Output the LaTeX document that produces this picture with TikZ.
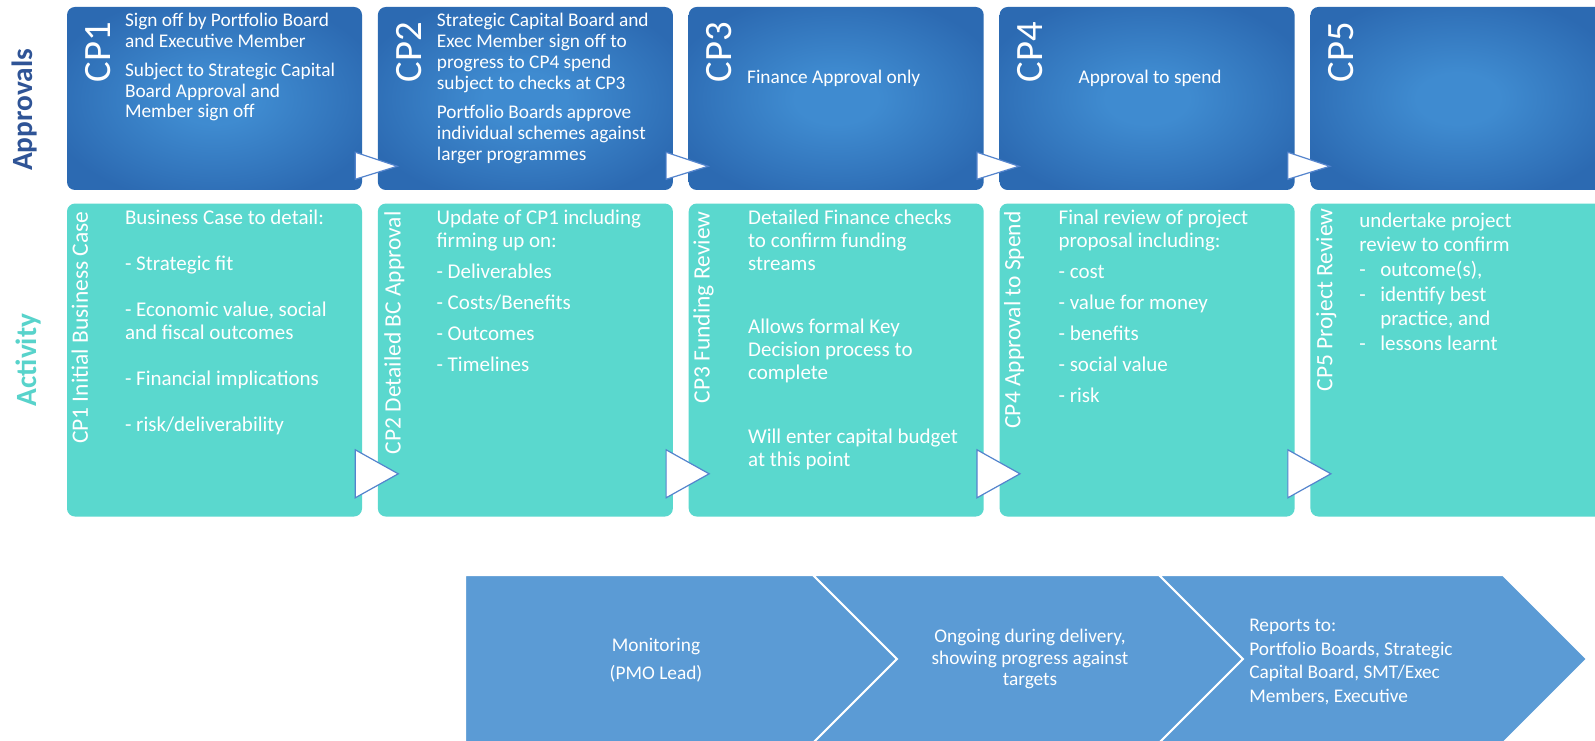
\documentclass[tikz,border=0pt]{standalone}
\usepackage{fontspec}
\setmainfont{Carlito}
\usetikzlibrary{positioning}

\definecolor{apin}{RGB}{63,139,208}
\definecolor{apout}{RGB}{44,106,178}
\definecolor{actfill}{RGB}{90,216,206}
\definecolor{chevfill}{RGB}{91,155,213}
\definecolor{apword}{RGB}{47,84,150}
\definecolor{acword}{RGB}{88,211,203}
\definecolor{gateline}{RGB}{84,132,205}

\pgfdeclareradialshading{apglow}{\pgfpointorigin}{color(0bp)=(apin); color(7bp)=(apin); color(29bp)=(apout); color(50bp)=(apout)}

\begin{document}
\begin{tikzpicture}[x=0.75pt,y=-0.75pt,
    approval/.style={shade, shading=apglow, rounded corners=6pt,
      minimum width=221.25pt, minimum height=137.25pt, inner sep=0pt},
    activity/.style={fill=actfill, rounded corners=6pt,
      minimum width=221.25pt, minimum height=234.75pt, inner sep=0pt},
    cpbig/.style={rotate=90, anchor=east, inner sep=0pt, text=white,
      font=\fontsize{29}{29}\selectfont},
    cplabel/.style={rotate=90, anchor=east, inner sep=0pt, text=white,
      text height=0.68em, text depth=0.22em, font=\fontsize{17.6}{17.6}\selectfont},
    apbody/.style={anchor=north west, align=left, inner sep=0pt, text=white,
      font=\fontsize{14.5}{15.6}\selectfont},
    acbody/.style={anchor=north west, align=left, inner sep=0pt, text=white,
      font=\fontsize{15.75}{17.25}\selectfont},
    sidelab/.style={rotate=90, inner sep=0pt, font=\bfseries\fontsize{22}{22}\selectfont},
    gate/.style={fill=white, draw=gateline, line width=0.9pt, line join=miter},
    chev/.style={fill=chevfill, draw=white, line width=1.5pt},
    chevtxt/.style={inner sep=0pt, text=white, font=\fontsize{14.5}{16.5}\selectfont},
    ]
    \useasboundingbox (0,0) rectangle (1595,741);
    \clip (0,0) rectangle (1595,741);
    \fill[white] (0,0) rectangle (1595,741);

    % Place boxes
    \node [approval] (ap1) at (214.5,98.5) {};
    \node [approval, right=11.5pt of ap1] (ap2) {};
    \node [approval, right=11.5pt of ap2] (ap3) {};
    \node [approval, right=11.5pt of ap3] (ap4) {};
    \node [approval, right=11.5pt of ap4] (ap5) {};

    \node [activity, below=9.75pt of ap1] (ac1) {};
    \node [activity, below=9.75pt of ap2] (ac2) {};
    \node [activity, below=9.75pt of ap3] (ac3) {};
    \node [activity, below=9.75pt of ap4] (ac4) {};
    \node [activity, below=9.75pt of ap5] (ac5) {};

    % Row labels
    \node [sidelab, text=apword] (apname) at (25,110) {Approvals};
    \node [sidelab, text=acword] (acname) at (28,360) {Activity};

    % Approvals text
    \node [cpbig] (cp1) at ([shift={(31,15)}]ap1.north west) {CP1};
    \node [cpbig] (cp2) at ([shift={(31,15)}]ap2.north west) {CP2};
    \node [cpbig] (cp3) at ([shift={(31,15)}]ap3.north west) {CP3};
    \node [cpbig] (cp4) at ([shift={(31,15)}]ap4.north west) {CP4};
    \node [cpbig] (cp5) at ([shift={(31,15)}]ap5.north west) {CP5};

    \node [apbody] (ap1txt) at ([shift={(58,6.2)}]ap1.north west)
      {Sign off by Portfolio Board\\ and Executive Member\\[6pt]
       Subject to Strategic Capital\\ Board Approval and\\ Member sign off};
    \node [apbody] (ap2txt) at ([shift={(59,6.2)}]ap2.north west)
      {Strategic Capital Board and\\ Exec Member sign off to\\ progress to CP4 spend\\
       subject to checks at CP3\\[6.5pt]
       Portfolio Boards approve\\ individual schemes against\\ larger programmes};
    \node [apbody] (ap3txt) at ([shift={(58.4,62.7)}]ap3.north west) {Finance Approval only};
    \node [apbody] (ap4txt) at ([shift={(79,62.7)}]ap4.north west) {Approval to spend};

    % Activity text
    \node [cplabel] (lab1) at ([shift={(18,8)}]ac1.north west) {CP1 Initial Business Case};
    \node [cplabel] (lab2) at ([shift={(20,8)}]ac2.north west) {CP2 Detailed BC Approval};
    \node [cplabel] (lab3) at ([shift={(18,8)}]ac3.north west) {CP3 Funding Review};
    \node [cplabel] (lab4) at ([shift={(18,8)}]ac4.north west) {CP4 Approval to Spend};
    \node [cplabel] (lab5) at ([shift={(19,5)}]ac5.north west) {CP5 Project Review};

    \node [acbody] (ac1txt) at ([shift={(58,6)}]ac1.north west)
      {Business Case to detail:\\[17.25pt] - Strategic fit\\[17.25pt]
       - Economic value, social\\ and fiscal outcomes\\[17.25pt]
       - Financial implications\\[17.25pt] - risk/deliverability};
    \node [acbody] (ac2txt) at ([shift={(58.7,6)}]ac2.north west)
      {Update of CP1 including\\ firming up on:\\[6pt] - Deliverables\\[6pt]
       - Costs/Benefits\\[6pt] - Outcomes\\[6pt] - Timelines};
    \node [acbody] (ac3txt) at ([shift={(59.4,6.5)}]ac3.north west)
      {Detailed Finance checks\\ to confirm funding\\ streams\\[30pt]
       Allows formal Key\\ Decision process to\\ complete\\[31pt]
       Will enter capital budget\\ at this point};
    \node [acbody] (ac4txt) at ([shift={(59,6)}]ac4.north west)
      {Final review of project\\ proposal including:\\[6pt] - cost\\[6pt]
       - value for money\\[6pt] - benefits\\[6pt] - social value\\[6pt] - risk};
    \node [acbody, font=\fontsize{15.75}{18.5}\selectfont] (ac5txt) at ([shift={(48.8,9)}]ac5.north west)
      {undertake project\\ review to confirm\\
       \makebox[15.75pt][l]{-}outcome(s),\\
       \makebox[15.75pt][l]{-}identify best\\
       \hspace*{15.75pt}practice, and\\
       \makebox[15.75pt][l]{-}lessons learnt};

    % Gates between steps
    \draw [gate] ([shift={(-7,-38)}]ap1.south east) -- ([shift={(35,-24)}]ap1.south east) -- ([shift={(-7,-11)}]ap1.south east) -- cycle;
    \draw [gate] ([shift={(-7,-38)}]ap2.south east) -- ([shift={(35,-24)}]ap2.south east) -- ([shift={(-7,-11)}]ap2.south east) -- cycle;
    \draw [gate] ([shift={(-7,-38)}]ap3.south east) -- ([shift={(35,-24)}]ap3.south east) -- ([shift={(-7,-11)}]ap3.south east) -- cycle;
    \draw [gate] ([shift={(-7,-38)}]ap4.south east) -- ([shift={(35,-24)}]ap4.south east) -- ([shift={(-7,-11)}]ap4.south east) -- cycle;

    \draw [gate] ([shift={(-7,-67)}]ac1.south east) -- ([shift={(36,-43)}]ac1.south east) -- ([shift={(-7,-19)}]ac1.south east) -- cycle;
    \draw [gate] ([shift={(-7,-67)}]ac2.south east) -- ([shift={(36,-43)}]ac2.south east) -- ([shift={(-7,-19)}]ac2.south east) -- cycle;
    \draw [gate] ([shift={(-7,-67)}]ac3.south east) -- ([shift={(36,-43)}]ac3.south east) -- ([shift={(-7,-19)}]ac3.south east) -- cycle;
    \draw [gate] ([shift={(-7,-67)}]ac4.south east) -- ([shift={(36,-43)}]ac4.south east) -- ([shift={(-7,-19)}]ac4.south east) -- cycle;

    % Monitoring chevrons
    \path [chev] (465,575) -- (813,575) -- (897,659) -- (813,743) -- (465,743) -- cycle;
    \path [chev] (813,575) -- (1159,575) -- (1243,659) -- (1159,743) -- (813,743) -- (897,659) -- cycle;
    \path [chev] (1159,575) -- (1503,575) -- (1587,659) -- (1503,743) -- (1159,743) -- (1243,659) -- cycle;

    \node [chevtxt, align=center] (mon) at (656,660) {Monitoring\\[4.5pt](PMO Lead)};
    \node [chevtxt, align=center, font=\fontsize{14.5}{16}\selectfont] (ongo) at (1030,659)
      {Ongoing during delivery,\\ showing progress against\\ targets};
    \node [chevtxt, align=left, anchor=west, font=\fontsize{14.5}{17.6}\selectfont] (rep) at (1249,662)
      {Reports to:\\ Portfolio Boards, Strategic\\ Capital Board, SMT/Exec\\ Members, Executive};
\end{tikzpicture}
\end{document}
